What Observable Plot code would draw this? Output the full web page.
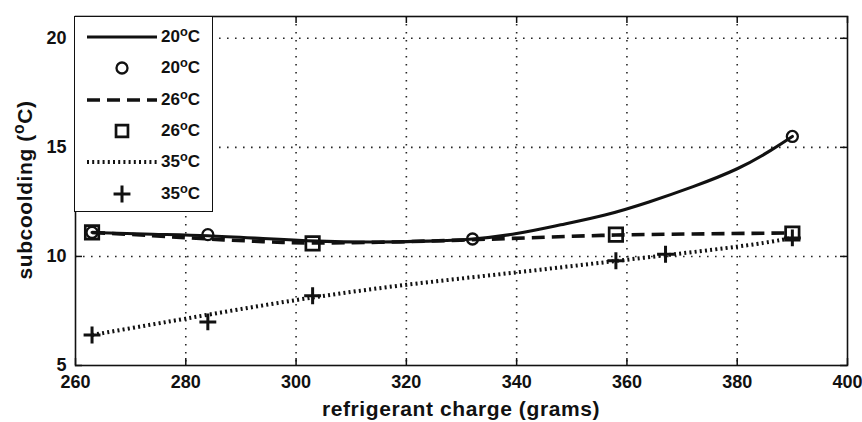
<!DOCTYPE html>
<html>
<head>
<meta charset="utf-8">
<script src="https://cdn.jsdelivr.net/npm/d3@7"></script>
<script src="https://cdn.jsdelivr.net/npm/@observablehq/plot@0.6"></script>
<style>
  html, body { margin: 0; padding: 0; background: #fff; }
  #wrap { position: relative; width: 862px; height: 422px; overflow: hidden;
          font-family: "Liberation Sans", Arial, sans-serif; font-weight: bold; color: #111; }
  #ylab { position: absolute; left: 25px; top: 190px; transform: translate(-50%, -50%) rotate(-90deg);
          white-space: nowrap; font-size: 21px; letter-spacing: 0.6px; }
  #xlab { position: absolute; left: 461px; top: 409px; transform: translate(-50%, -50%);
          white-space: nowrap; font-size: 21px; letter-spacing: 0.6px; }
  #legend { position: absolute; left: 74px; top: 16px; width: 139px; height: 196px;
            border: 1.5px solid #111; background: #fff; box-sizing: border-box; }
  #legend .row { position: absolute; left: 0; height: 20px; width: 139px; }
  #legend .lab { position: absolute; left: 86px; top: 0; font-size: 17px; line-height: 20px; }
  sup { font-size: 0.75em; vertical-align: 0.5em; line-height: 0; }
</style>
</head>
<body>
<div id="wrap"></div>
<script>
// ---- data ----
const xTicks = [260, 280, 300, 320, 340, 360, 380, 400];
const yTicks = [5, 10, 15, 20];

// 20 °C fitted curve (solid) and measured points (circles)
const fit20X = [263, 274, 284, 294, 304, 314, 324, 332, 340, 348, 356, 364, 372, 380, 386, 390];
const fit20Y = [11.1, 11.02, 10.95, 10.82, 10.7, 10.66, 10.7, 10.8, 11.05, 11.45, 11.9, 12.5, 13.2, 14.02, 14.85, 15.5];
const pts20X = [263, 284, 332, 390];
const pts20Y = [11.1, 11.0, 10.8, 15.5];

// 26 °C fitted curve (dashed) and measured points (squares)
const fit26X = [263, 274, 284, 294, 303, 315, 330, 345, 358, 372, 390];
const fit26Y = [11.1, 10.95, 10.8, 10.68, 10.62, 10.65, 10.75, 10.88, 10.98, 11.03, 11.08];
const pts26X = [263, 303, 358, 390];
const pts26Y = [11.1, 10.6, 11.0, 11.05];

// 35 °C fitted curve (dotted) and measured points (plus)
const fit35X = [263, 280, 300, 320, 340, 360, 380, 390];
const fit35Y = [6.4, 7.15, 8.0, 8.7, 9.27, 9.85, 10.45, 10.85];
const pts35X = [263, 284, 303, 358, 367, 390];
const pts35Y = [6.4, 7.0, 8.2, 9.8, 10.1, 10.85];

const legendItems = ["20", "20", "26", "26", "35", "35"];

// ---- build tables ----
const zip = (xs, ys) => xs.map((x, i) => ({x, y: ys[i]}));
const fit20 = zip(fit20X, fit20Y), fit26 = zip(fit26X, fit26Y), fit35 = zip(fit35X, fit35Y);
const p20 = zip(pts20X, pts20Y), p26 = zip(pts26X, pts26Y), p35 = zip(pts35X, pts35Y);

const ink = "#111";
const W = 862, H = 422, mT = 16, mB = 57, mL = 75, mR = 15;
const innerH = H - mT - mB, innerW = W - mL - mR;
const tickLen = 7;

const chart = Plot.plot({
  width: W, height: H,
  marginTop: mT, marginBottom: mB, marginLeft: mL, marginRight: mR,
  style: {fontFamily: "'Liberation Sans', Arial, sans-serif", fontWeight: "bold", fontSize: "17px", color: ink, background: "#fff"},
  x: {domain: [260, 400], ticks: xTicks},
  y: {domain: [5, 21], ticks: yTicks},
  marks: [
    // dotted grid
    Plot.gridX(xTicks.slice(1, -1), {stroke: ink, strokeOpacity: 0.9, strokeWidth: 1.6, strokeDasharray: "1.6,6.4"}),
    Plot.gridY(yTicks.slice(1), {stroke: ink, strokeOpacity: 0.9, strokeWidth: 1.6, strokeDasharray: "1.6,6.4"}),
    // inward ticks
    Plot.tickX(xTicks, {x: d => d, stroke: ink, strokeWidth: 1.5, insetTop: innerH - tickLen}),
    Plot.tickX(xTicks, {x: d => d, stroke: ink, strokeWidth: 1.5, insetBottom: innerH - tickLen}),
    Plot.tickY(yTicks, {y: d => d, stroke: ink, strokeWidth: 1.5, insetRight: innerW - tickLen}),
    Plot.tickY(yTicks, {y: d => d, stroke: ink, strokeWidth: 1.5, insetLeft: innerW - tickLen}),
    Plot.axisX({ticks: xTicks, tickSize: 0, tickPadding: 10, label: null, fontSize: 18}),
    Plot.axisY({ticks: yTicks, tickSize: 0, tickPadding: 9, label: null, fontSize: 18}),
    // fitted lines
    Plot.line(fit35, {x: "x", y: "y", curve: "natural", stroke: ink, strokeWidth: 4, strokeDasharray: "2,3.2", strokeLinecap: "butt"}),
    Plot.line(fit26, {x: "x", y: "y", curve: "natural", stroke: ink, strokeWidth: 3.6, strokeDasharray: "13,7", strokeLinecap: "butt"}),
    Plot.line(fit20, {x: "x", y: "y", curve: "natural", stroke: ink, strokeWidth: 3.1}),
    // measured points
    Plot.dot(p20, {x: "x", y: "y", symbol: "circle", r: 5.5, stroke: ink, strokeWidth: 2.3, fill: "none"}),
    Plot.dot(p35, {x: "x", y: "y", symbol: "plus", r: 5.5, stroke: ink, strokeWidth: 3}),
    Plot.dot(p26, {x: "x", y: "y", symbol: "square", r: 7.6, stroke: ink, strokeWidth: 2.7, fill: "none"}),
    Plot.frame({stroke: ink, strokeWidth: 1.6})
  ]
});

const wrap = document.getElementById("wrap");
wrap.appendChild(chart);

// axis labels (HTML so the superscript stays real text)
const ylab = document.createElement("div");
ylab.id = "ylab";
ylab.innerHTML = "subcoolding (<sup>o</sup>C)";
wrap.appendChild(ylab);
const xlab = document.createElement("div");
xlab.id = "xlab";
xlab.textContent = "refrigerant charge (grams)";
wrap.appendChild(xlab);

// legend
const legend = document.createElement("div");
legend.id = "legend";
wrap.appendChild(legend);
const styles = [
  {kind: "line", dash: null, w: 3.1},
  {kind: "sym", sym: d3.symbolCircle, r: 5.5, w: 2.3},
  {kind: "line", dash: "13,7", w: 3.6},
  {kind: "sym", sym: d3.symbolSquare2, r: 7.6, w: 2.7},
  {kind: "line", dash: "2,3.2", w: 4},
  {kind: "sym", sym: d3.symbolPlus, r: 5.5, w: 3}
];
legendItems.forEach((t, i) => {
  const row = document.createElement("div");
  row.className = "row";
  row.style.top = (10 + i * 31.3) + "px";
  const svg = d3.create("svg").attr("width", 85).attr("height", 20)
    .style("position", "absolute").style("left", "0px").style("top", "0px");
  const s = styles[i];
  if (s.kind === "line") {
    svg.append("line").attr("x1", 12).attr("x2", 82).attr("y1", 10).attr("y2", 10)
      .attr("stroke", ink).attr("stroke-width", s.w).attr("stroke-dasharray", s.dash);
  } else {
    svg.append("path").attr("transform", "translate(47,10)")
      .attr("d", d3.symbol(s.sym, Math.PI * s.r * s.r)())
      .attr("fill", "none").attr("stroke", ink).attr("stroke-width", s.w);
  }
  row.appendChild(svg.node());
  const lab = document.createElement("div");
  lab.className = "lab";
  lab.innerHTML = t + "<sup>o</sup>C";
  row.appendChild(lab);
  legend.appendChild(row);
});
</script>
</body>
</html>
